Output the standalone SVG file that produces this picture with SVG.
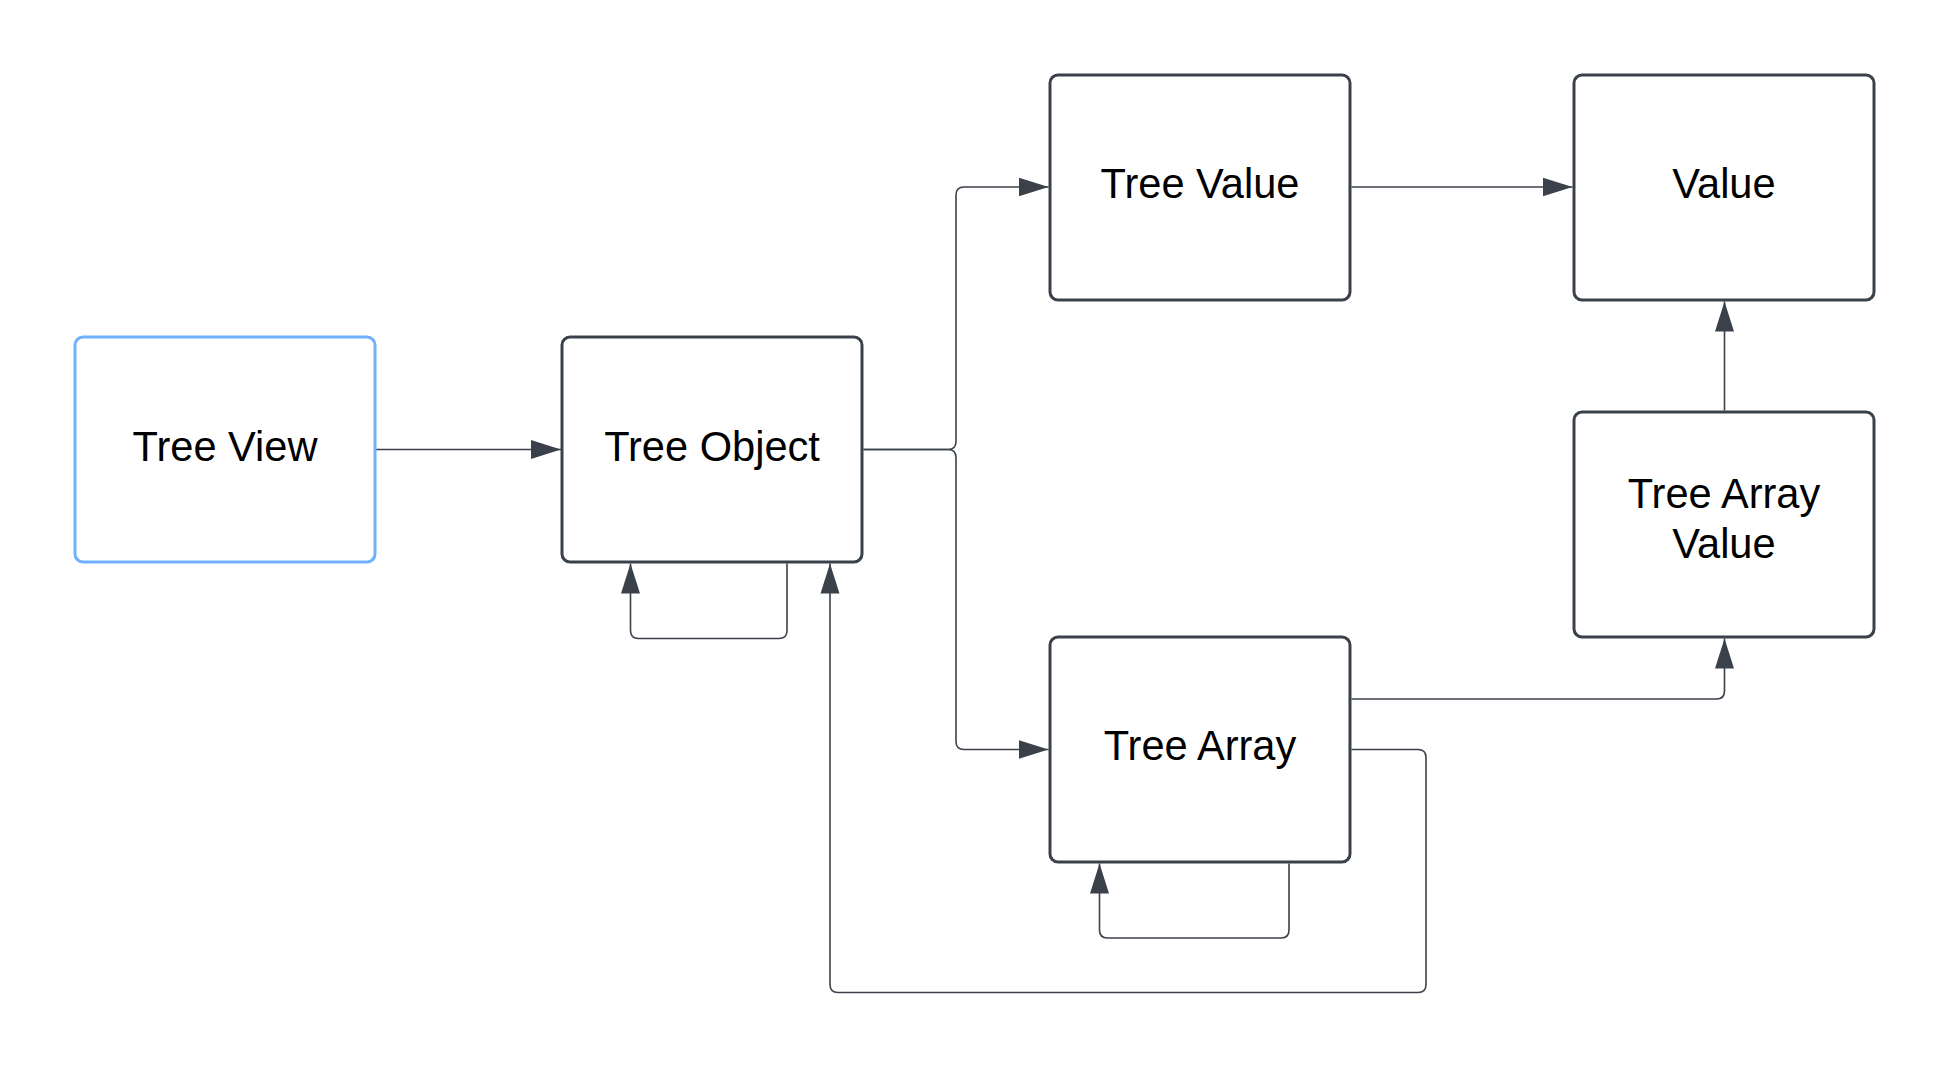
<svg xmlns="http://www.w3.org/2000/svg" width="1950" height="1069" viewBox="0 0 1950 1069">
  <style>
    .box { fill: #ffffff; stroke: #3a414a; stroke-width: 3; }
    .sel { stroke: #6fb0ff; }
    .lbl { font-family: "Liberation Sans", Arial, sans-serif; font-size: 41.6px; fill: #000000; text-anchor: middle; }
    .edge { fill: none; stroke: #3a414a; stroke-width: 1.6; marker-end: url(#arrow); }
  </style>
  <defs>
    <marker id="arrow" markerUnits="userSpaceOnUse" markerWidth="32" markerHeight="22" refX="30" refY="10" orient="auto">
      <path d="M0,0.5 L30,10 L0,19.5 Z" fill="#3a414a"/>
    </marker>
  </defs>
  <rect width="1950" height="1069" fill="#ffffff"/>

  <g id="connectors">
    <path class="edge" d="M375,449.5 H561"/>
    <path class="edge" d="M863.5,449.5 H948 Q956,449.5 956,441.5 V195 Q956,187 964,187 H1048.5"/>
    <path class="edge" d="M863.5,449.5 H948 Q956,449.5 956,457.5 V741.5 Q956,749.5 964,749.5 H1048.5"/>
    <path class="edge" d="M1351.5,187 H1572.5"/>
    <path class="edge" d="M1724.5,410.5 V301.5"/>
    <path class="edge" d="M1351.5,699 H1716.5 Q1724.5,699 1724.5,691 V638.5"/>
    <path class="edge" d="M1351.5,749.5 H1418 Q1426,749.5 1426,757.5 V984.5 Q1426,992.5 1418,992.5 H838 Q830,992.5 830,984.5 V563.5"/>
    <path class="edge" d="M787,563.5 V630.5 Q787,638.5 779,638.5 H638.5 Q630.5,638.5 630.5,630.5 V563.5"/>
    <path class="edge" d="M1289,863.5 V930 Q1289,938 1281,938 H1107.5 Q1099.5,938 1099.5,930 V863.5"/>
  </g>

  <g id="tree-view">
    <rect class="box sel" x="75" y="337" width="300" height="225" rx="8"/>
    <text class="lbl" x="225" y="461">Tree View</text>
  </g>
  <g id="tree-object">
    <rect class="box" x="562" y="337" width="300" height="225" rx="8"/>
    <text class="lbl" x="712" y="461">Tree Object</text>
  </g>
  <g id="tree-value">
    <rect class="box" x="1050" y="75" width="300" height="225" rx="8"/>
    <text class="lbl" x="1200" y="198">Tree Value</text>
  </g>
  <g id="value">
    <rect class="box" x="1574" y="75" width="300" height="225" rx="8"/>
    <text class="lbl" x="1724" y="198">Value</text>
  </g>
  <g id="tree-array-value">
    <rect class="box" x="1574" y="412" width="300" height="225" rx="8"/>
    <text class="lbl" x="1724" y="508">Tree Array</text>
    <text class="lbl" x="1724" y="558">Value</text>
  </g>
  <g id="tree-array">
    <rect class="box" x="1050" y="637" width="300" height="225" rx="8"/>
    <text class="lbl" x="1200" y="760">Tree Array</text>
  </g>
</svg>
